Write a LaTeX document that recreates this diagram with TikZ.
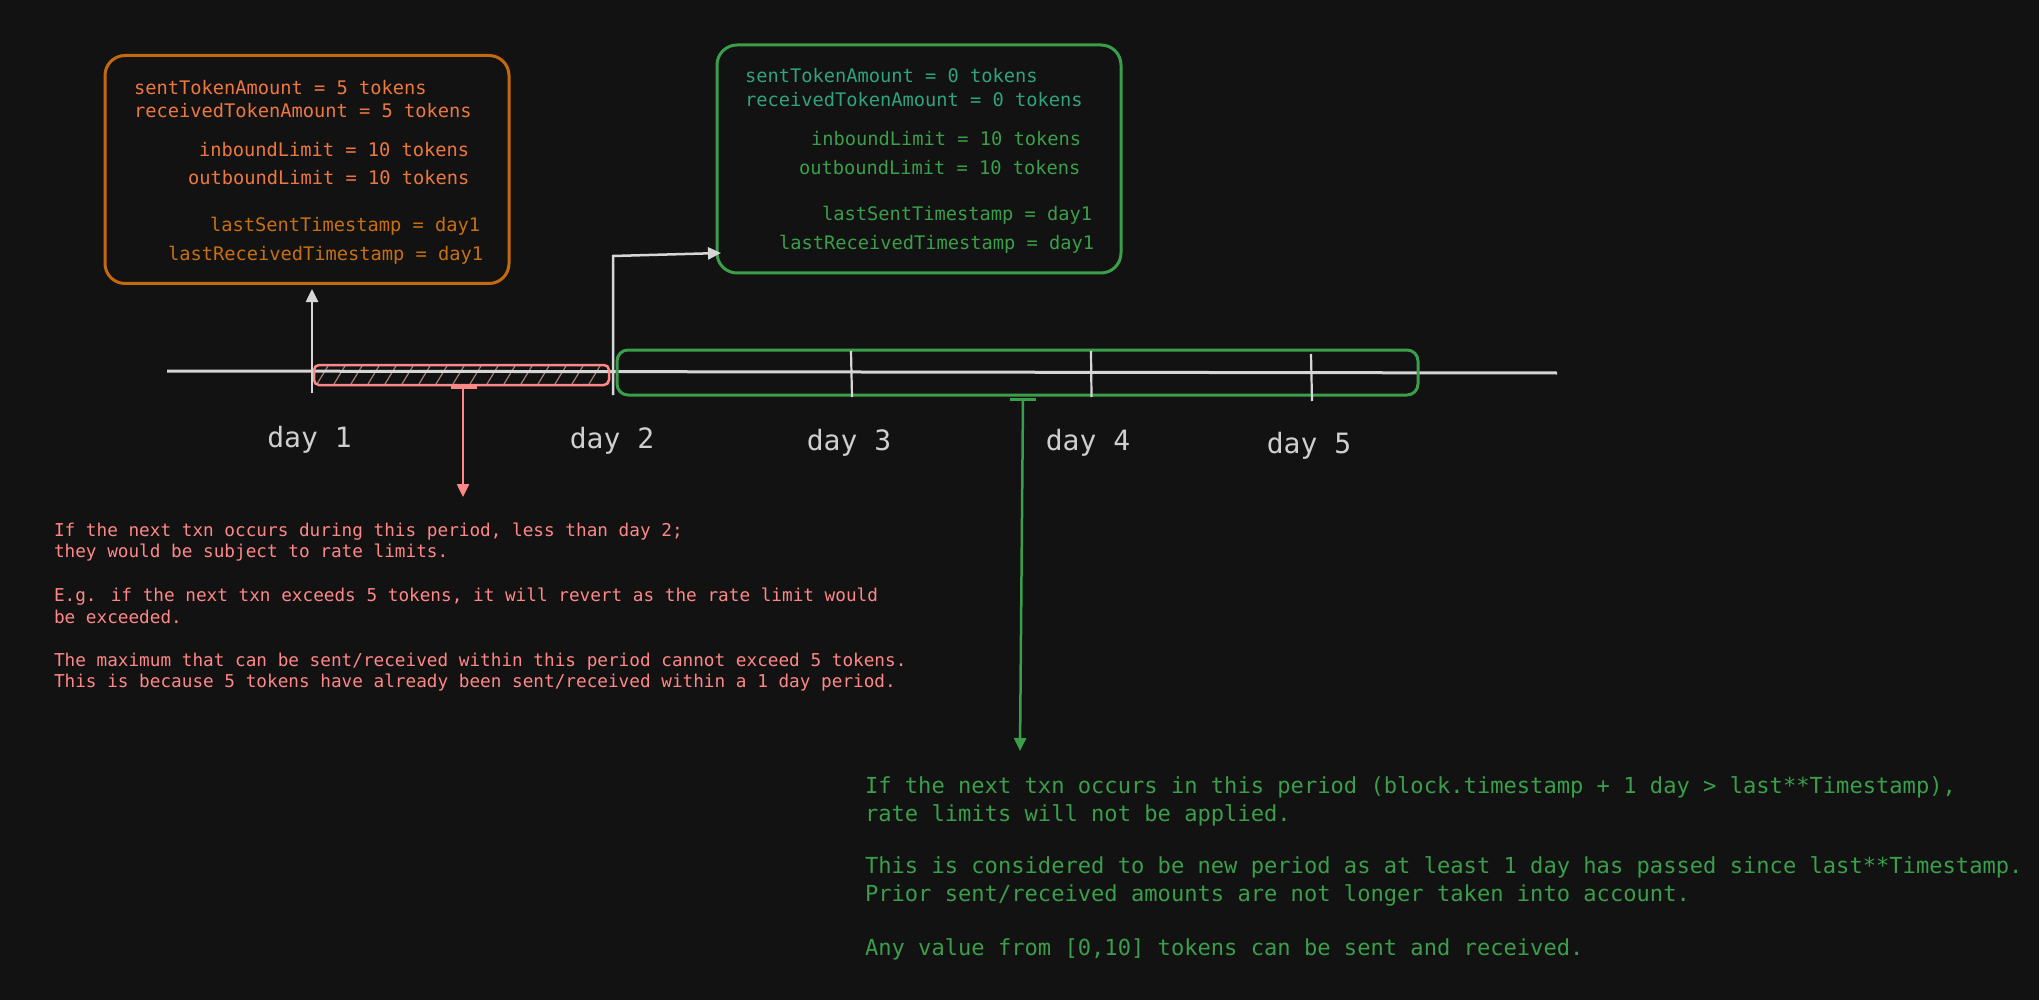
\documentclass[tikz,border=0pt]{standalone}
\usepackage{fontspec}
\newfontfamily\codefont{DejaVu Sans Mono}
\usetikzlibrary{arrows.meta}
\definecolor{bg}{HTML}{121212}
\definecolor{lgray}{HTML}{D6D6D6}
\definecolor{dgray}{HTML}{CFCFCF}
\definecolor{otext}{HTML}{EC7840}
\definecolor{odark}{HTML}{C8700F}
\definecolor{oborder}{HTML}{C46A0E}
\definecolor{gteal}{HTML}{2FA37F}
\definecolor{ggreen}{HTML}{3A9E4A}
\definecolor{pinkc}{HTML}{FF8787}
\definecolor{hatchc}{HTML}{A08078}
\tikzset{
  txt/.style={anchor=base west, inner sep=0pt, outer sep=0pt},
  boxfont/.style={font=\codefont\fontsize{18.7}{22}\selectfont},
  redfont/.style={font=\codefont\fontsize{17.7}{21}\selectfont, text=pinkc},
  grnfont/.style={font=\codefont\fontsize{22.1}{26}\selectfont, text=ggreen},
  dayfont/.style={font=\codefont\fontsize{28}{32}\selectfont, text=dgray, anchor=base, inner sep=0pt},
  statebox/.style={draw, line width=3pt, rounded corners=20pt, inner sep=0pt},
  arr/.style={draw=lgray, line width=2.5pt, -{Triangle[length=13pt,width=12pt]}},
  tick/.style={draw=lgray, line width=2.2pt},
  hatch/.style={draw=hatchc, line width=1.2pt},
}
\begin{document}
\begin{tikzpicture}[x=1pt,y=-1pt]
\fill[bg] (0,0) rectangle (2039,1000);
\useasboundingbox (0,0) rectangle (2039,1000);

% state boxes
\node[statebox, draw=oborder, minimum width=404pt, minimum height=228pt] (obox) at (307,169.5) {};
\node[statebox, draw=ggreen, minimum width=404pt, minimum height=228pt] (gbox) at (919,159) {};

% orange box text
\node[txt, boxfont, text=otext] (o1) at (134,95) {sentTokenAmount = 5 tokens};
\node[txt, boxfont, text=otext] (o2) at (134,118) {receivedTokenAmount = 5 tokens};
\node[txt, boxfont, text=otext] (o3) at (199,157) {inboundLimit = 10 tokens};
\node[txt, boxfont, text=otext] (o4) at (188,185) {outboundLimit = 10 tokens};
\node[txt, boxfont, text=odark] (o5) at (210,232) {lastSentTimestamp = day1};
\node[txt, boxfont, text=odark] (o6) at (168,261) {lastReceivedTimestamp = day1};

% green box text
\node[txt, boxfont, text=gteal] (b1) at (745,83) {sentTokenAmount = 0 tokens};
\node[txt, boxfont, text=gteal] (b2) at (745,107) {receivedTokenAmount = 0 tokens};
\node[txt, boxfont, text=ggreen] (b3) at (811,146) {inboundLimit = 10 tokens};
\node[txt, boxfont, text=ggreen] (b4) at (799,175) {outboundLimit = 10 tokens};
\node[txt, boxfont, text=ggreen] (b5) at (822,221) {lastSentTimestamp = day1};
\node[txt, boxfont, text=ggreen] (b6) at (779,250) {lastReceivedTimestamp = day1};

% hatched period
\begin{scope}
  \clip[rounded corners=5pt] (314,365) rectangle (609,385);
  \foreach \x in {300,317,...,630} \draw[hatch] (\x,384) -- (\x+11,366);
\end{scope}

% timeline
\coordinate (tlstart) at (167,371);
\coordinate (tlend) at (1557,373);
\draw[draw=lgray, line width=3pt] (tlstart) -- (tlend);

% period rectangles
\node[draw=pinkc, line width=2.5pt, rounded corners=5pt, minimum width=295pt, minimum height=20pt, inner sep=0pt] (prect) at (461.5,375) {};
\node[draw=ggreen, line width=3pt, rounded corners=11pt, minimum width=801pt, minimum height=45pt, inner sep=0pt] (grect) at (1017.5,372.5) {};

% ticks
\coordinate (t3a) at (851,351); \coordinate (t3b) at (852,397);
\coordinate (t4a) at (1091,351); \coordinate (t4b) at (1091.5,397);
\coordinate (t5a) at (1311,354); \coordinate (t5b) at (1312,401);
\draw[tick] (t3a) -- (t3b);
\draw[tick] (t4a) -- (t4b);
\draw[tick] (t5a) -- (t5b);

% arrows to boxes
\coordinate (t1b) at (312,393);
\coordinate (t1t) at (312,289);
\draw[arr] (t1b) -- (t1t);
\coordinate (t2b) at (613,395);
\coordinate (t2c) at (613,256);
\coordinate (gin) at (721,253);
\draw[arr] (t2b) -- (t2c) -- (gin);

% stubs and arrows to notes
\coordinate (ps1) at (451,387); \coordinate (ps2) at (477,387);
\draw[draw=pinkc, line width=4pt] (ps1) -- (ps2);
\coordinate (pa1) at (463,388); \coordinate (pa2) at (463,497);
\draw[draw=pinkc, line width=2.5pt, -{Triangle[length=13pt,width=12pt]}] (pa1) -- (pa2);
\coordinate (gs1) at (1010,399); \coordinate (gs2) at (1036,399);
\draw[draw=ggreen, line width=3pt] (gs1) -- (gs2);
\coordinate (ga1) at (1023,399); \coordinate (ga2) at (1020,751);
\draw[draw=ggreen, line width=2.5pt, -{Triangle[length=13pt,width=12pt]}] (ga1) -- (ga2);

% day labels
\node[dayfont] (d1) at (309.5,447) {day 1};
\node[dayfont] (d2) at (612,448) {day 2};
\node[dayfont] (d3) at (849,450) {day 3};
\node[dayfont] (d4) at (1088,450) {day 4};
\node[dayfont] (d5) at (1309,453) {day 5};

% red note
\node[txt, redfont] (r1) at (54,536) {If the next txn occurs during this period, less than day 2;};
\node[txt, redfont] (r2) at (54,557) {they would be subject to rate limits.};
\node[txt, redfont] (r3) at (54,601) {E.g. if the next txn exceeds 5 tokens, it will revert as the rate limit would};
\node[txt, redfont] (r4) at (54,623) {be exceeded.};
\node[txt, redfont] (r5) at (54,666) {The maximum that can be sent/received within this period cannot exceed 5 tokens.};
\node[txt, redfont] (r6) at (54,687) {This is because 5 tokens have already been sent/received within a 1 day period.};

% green note
\node[txt, grnfont] (g1) at (865,793) {If the next txn occurs in this period (block.timestamp + 1 day > last**Timestamp),};
\node[txt, grnfont] (g2) at (865,821) {rate limits will not be applied.};
\node[txt, grnfont] (g3) at (865,873) {This is considered to be new period as at least 1 day has passed since last**Timestamp.};
\node[txt, grnfont] (g4) at (865,901) {Prior sent/received amounts are not longer taken into account.};
\node[txt, grnfont] (g5) at (865,955) {Any value from [0,10] tokens can be sent and received.};
\end{tikzpicture}
\end{document}
